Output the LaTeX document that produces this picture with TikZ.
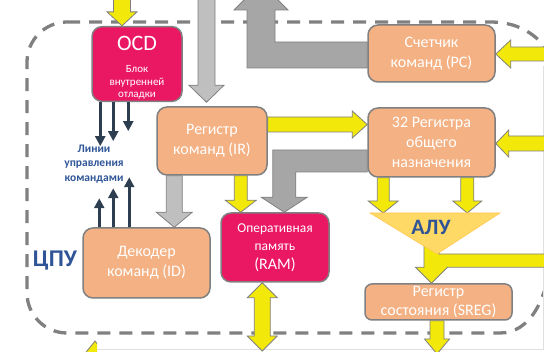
\documentclass[tikz,border=0pt]{standalone}
\usepackage{fontspec}
\setmainfont{Carlito}
\usepackage{xcolor}
\usepackage{tikz}
\usetikzlibrary{calc}
\usetikzlibrary{arrows.meta}

\definecolor{boxorange}{RGB}{244,177,131}
\definecolor{boxred}{RGB}{234,23,99}
\definecolor{boxline}{RGB}{128,128,128}
\definecolor{busyellow}{RGB}{242,232,10}
\definecolor{busgray}{RGB}{166,166,166}
\definecolor{buslight}{RGB}{191,191,191}
\definecolor{alufill}{RGB}{255,217,102}
\definecolor{textblue}{RGB}{47,85,151}
\definecolor{ctrlblue}{RGB}{44,62,80}

% block arrows: style, shaft half width, head half width, head length, from, tip
\newcommand{\blkv}[6]{%
  \path[#1] let \p1=#5, \p2=#6, \n1={sign(\y1-(\y2))} in
    ({\x2-#2},\y1) -- ({\x2-#2},{\y2+\n1*#4}) -- ({\x2-#3},{\y2+\n1*#4}) -- (\x2,\y2)
    -- ({\x2+#3},{\y2+\n1*#4}) -- ({\x2+#2},{\y2+\n1*#4}) -- ({\x2+#2},\y1) -- cycle;}
\newcommand{\blkh}[6]{%
  \path[#1] let \p1=#5, \p2=#6, \n1={sign(\x1-(\x2))} in
    (\x1,{\y2+#2}) -- ({\x2+\n1*#4},{\y2+#2}) -- ({\x2+\n1*#4},{\y2+#3}) -- (\x2,\y2)
    -- ({\x2+\n1*#4},{\y2-#3}) -- ({\x2+\n1*#4},{\y2-#2}) -- (\x1,{\y2-#2}) -- cycle;}
% two heads: style, shaft half width, head half width, head length, tip, tip
\newcommand{\blkvv}[6]{%
  \path[#1] let \p1=#5, \p2=#6, \n1={sign(\y1-(\y2))} in
    (\x1,\y1) -- ({\x1+#3},{\y1-\n1*#4}) -- ({\x1+#2},{\y1-\n1*#4})
    -- ({\x1+#2},{\y2+\n1*#4}) -- ({\x1+#3},{\y2+\n1*#4}) -- (\x1,\y2)
    -- ({\x1-#3},{\y2+\n1*#4}) -- ({\x1-#2},{\y2+\n1*#4})
    -- ({\x1-#2},{\y1-\n1*#4}) -- ({\x1-#3},{\y1-\n1*#4}) -- cycle;}

\begin{document}
\begin{tikzpicture}[
    x = 1pt,
    y = -1pt,
    blockf/.style = {
      rectangle,
      draw=boxline,
      fill=boxorange,
      rounded corners=10pt,
      line width=1.5pt,
      inner sep=0pt,
      text=white,
      align=center,
      font=\fontsize{16}{20}\selectfont
    },
    memf/.style = {
      blockf,
      fill=boxred
    },
    yarrow/.style = {fill=busyellow, draw=boxline, line width=0.8pt},
    larrow/.style = {fill=buslight, draw=boxline, line width=0.8pt},
    darrow/.style = {fill=busgray, draw=boxline, line width=0.8pt},
    ctrl/.style = {
      draw=ctrlblue,
      line width=3pt,
      -{Triangle[width=10pt,length=10pt]}
    },
    cpuframe/.style = {
      draw=boxline,
      line width=3.3pt,
      dash pattern=on 13pt off 9pt
    },
    labelf/.style = {
      text=textblue,
      align=center,
      inner sep=0pt
    }
  ]
    \useasboundingbox (0,0) rectangle (544,352);
    \clip (0,0) rectangle (544,352);

    % CPU border
    \draw[cpuframe] (67,22) -- (490,22) .. controls (516,22) and (536,32) .. (552,56)
      -- (552,250) .. controls (548,300) and (530,333) .. (500,333)
      -- (67,333) .. controls (45,333) and (27,315) .. (27,293)
      -- (27,62) .. controls (27,40) and (45,22) .. (67,22);
    \draw[black!12, line width=0.8pt] (97,349.5) -- (543,349.5) -- (543,66);

    % units
    \node[memf, font=\fontsize{22}{24}\selectfont, minimum width=90pt, minimum height=68pt]
      (ocd) at (137,64) {\rule{0pt}{24pt}OCD\\[-2pt]{\fontsize{11}{12.5}\selectfont
        \begin{tabular}[t]{@{}c@{}}Блок\\внутренней\\отладки\end{tabular}}};
    \node[blockf, minimum width=110pt, minimum height=68pt] (ir) at (212,141) {Регистр\\команд (IR)};
    \node[blockf, minimum width=127pt, minimum height=57pt] (pc) at (431.5,53.5) {Счетчик\\команд (PC)};
    \node[blockf, minimum width=127pt, minimum height=69pt] (reg) at (431.5,142.5) {32 Регистра\\общего\\назначения};
    \node[blockf, minimum width=127pt, minimum height=70pt] (id) at (146.5,263) {Декодер\\команд (ID)};
    \node[memf, font=\fontsize{13.5}{18.5}\selectfont, minimum width=108pt, minimum height=69pt]
      (ram) at (275,247.5) {Оперативная\\память\\{\fontsize{16}{19}\selectfont (RAM)}};
    \node[blockf, rounded corners=7pt, font=\fontsize{16}{19}\selectfont, minimum width=147pt, minimum height=36pt]
      (sreg) at (438.5,302) {Регистр\\состояния (SREG)};

    % bus ends and bends
    \coordinate (ocdin) at (122,-10);
    \coordinate (irin) at (206.5,-10);
    \coordinate (irtip) at ($(irin |- ir.north)+(0,-4)$);
    \coordinate (irid) at ($(ir.south west)+(18,0)$);
    \coordinate (irram) at ($(ir.south west)+(84.5,0)$);
    \coordinate (irreg) at ($(ir.east)+(0,-16.5)$);
    \coordinate (pcin) at (560,54);
    \coordinate (regin) at (560,143.5);
    \coordinate (pcout) at (261,-17);
    \coordinate (regram) at ($(ram.north west)+(64,0)$);
    \coordinate (regl) at ($(reg.south west)+(16,0)$);
    \coordinate (regr) at ($(reg.south west)+(100,0)$);
    \coordinate (alul) at (370,213);
    \coordinate (alur) at (500,213);
    \coordinate (alua) at (437,254);
    \coordinate (alumid) at (431.5,246);
    \coordinate (aluout) at (560,261);
    \coordinate (ramio) at ($(ram.south west)+(42,0)$);
    \coordinate (ramout) at (263,351);
    \coordinate (sregout) at (437,354);
    \coordinate (busin) at (95,341);
    \coordinate (busfrom) at (95,370);

    % buses
    \blkv{yarrow}{8.5pt}{15pt}{14pt}{(ocdin)}{(ocdin |- ocd.north)}
    \blkv{larrow}{8.5pt}{17.5pt}{17pt}{(irin)}{(irtip)}
    \blkv{larrow}{8pt}{18pt}{15pt}{(irid)}{(irid |- id.north)}
    \blkv{yarrow}{6.5pt}{15.5pt}{12pt}{(irram)}{(irram |- ram.north)}
    \blkh{yarrow}{7.5pt}{13.5pt}{15pt}{(irreg)}{(irreg -| reg.west)}
    \blkh{yarrow}{7pt}{14pt}{15pt}{(pcin)}{(pcin -| pc.east)}
    \blkh{yarrow}{7.5pt}{13.5pt}{13pt}{(regin)}{(regin -| reg.east)}
    \blkv{yarrow}{6pt}{15pt}{12pt}{(regl)}{(regl |- alul)}
    \blkv{yarrow}{6.5pt}{14.5pt}{12pt}{(regr)}{(regr |- alul)}
    \blkvv{yarrow}{8pt}{15pt}{15pt}{(ramio)}{(ramout)}
    \blkv{yarrow}{7pt}{12.5pt}{15pt}{(sreg.south)}{(sregout)}
    \path[darrow] let \p1=(pc.west), \p2=(pcout) in
      (\x1,{\y1+11.5pt}) -- ({\x2+14pt},{\y1+11.5pt}) -- ({\x2+14pt},{\y2-27pt})
      -- ({\x2+27pt},{\y2-27pt}) -- (\x2,\y2) -- ({\x2-27pt},{\y2-27pt})
      -- ({\x2-14pt},{\y2-27pt}) -- ({\x2-14pt},{\y1-14.5pt}) -- (\x1,{\y1-14.5pt}) -- cycle;
    \path[darrow] let \p1=(reg.west), \p2=(regram) in
      (\x1,{\y1-7.5pt}) -- ({\x2-11.5pt},{\y1-7.5pt}) -- ({\x2-11.5pt},{\y2+15pt})
      -- ({\x2-23pt},{\y2+15pt}) -- (\x2,\y2) -- ({\x2+23pt},{\y2+15pt})
      -- ({\x2+11.5pt},{\y2+15pt}) -- ({\x2+11.5pt},{\y1-29.5pt}) -- (\x1,{\y1-29.5pt}) -- cycle;
    \path[yarrow] let \p1=(alumid), \p2=(alumid |- sreg.north), \p3=(aluout) in
      ({\x1-7.5pt},\y1) -- ({\x1-7.5pt},{\y2+16pt}) -- ({\x1-16pt},{\y2+16pt}) -- (\x2,\y2)
      -- ({\x1+16pt},{\y2+16pt}) -- (\x3,{\y2+16pt}) -- (\x3,{\y3+7pt})
      -- ({\x1+7.5pt},{\y3+7pt}) -- ({\x1+7.5pt},\y1) -- cycle;
    \begin{scope}
      \clip (0,300) rectangle (97,352);
      \blkv{yarrow}{6pt}{12pt}{15pt}{(busfrom)}{(busin)}
    \end{scope}

    % ALU
    \filldraw[fill=alufill, draw=alufill!80!orange, line width=0.6pt] (alul) -- (alur) -- (alua) -- cycle;
    \node[labelf, font=\bfseries\fontsize{22}{24}\selectfont] (alu) at (431,227) {АЛУ};

    % control lines
    \foreach \dx/\len in {9/44, 22/39, 37/29}
      \draw[ctrl] ($(ocd.south west)+(\dx,0)$) -- ++(0,\len);
    \foreach \dx/\len in {17/29, 31/39, 47/50}
      \draw[ctrl] ($(id.north west)+(\dx,0)$) -- ++(0,-\len);
    \node[labelf, font=\bfseries\fontsize{11.5}{14.5}\selectfont] (ctrltxt) at (94,164) {Линии\\управления\\командами};
    \node[labelf, font=\bfseries\fontsize{24}{28}\selectfont] (cpu) at (55,261) {ЦПУ};
  \end{tikzpicture}
\end{document}
